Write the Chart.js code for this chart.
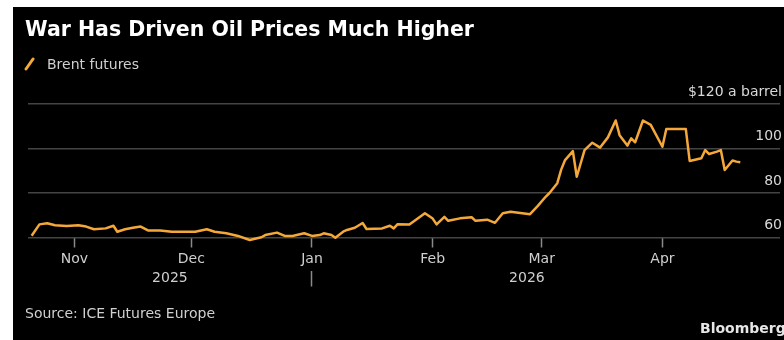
<!DOCTYPE html>
<html>
<head>
<meta charset="utf-8">
<script src="https://cdn.jsdelivr.net/npm/chart.js@4"></script>
<style>
  html, body { margin: 0; padding: 0; background: #fff; }
  body { width: 784px; height: 340px; position: relative; overflow: hidden; font-family: "DejaVu Sans", sans-serif; }
  #panel { position: absolute; left: 13px; top: 7px; width: 771px; height: 333px; background: #000; }
  #chart { position: absolute; left: 0; top: 0; }
  .txt { position: absolute; white-space: nowrap; line-height: 1; }
  #title { left: 25px; top: 19px; font-size: 20.5px; font-weight: bold; color: #fff; }
  #legend { left: 47px; top: 57px; font-size: 14px; color: #cfcfcf; }
  #swatch { position: absolute; left: 24px; top: 57px; }
  #source { left: 25px; top: 306px; font-size: 14px; color: #d0d0d0; }
  #brand { left: 700px; top: 321px; font-size: 14px; font-weight: bold; color: #e6e6e6; }
</style>
</head>
<body>
<div id="panel"></div>
<canvas id="chart" width="784" height="340"></canvas>
<div class="txt" id="title">War Has Driven Oil Prices Much Higher</div>
<svg id="swatch" width="12" height="14"><line x1="2" y1="12" x2="9" y2="2" stroke="#f5a83a" stroke-width="3" stroke-linecap="round"/></svg>
<div class="txt" id="legend">Brent futures</div>
<div class="txt" id="source">Source: ICE Futures Europe</div>
<div class="txt" id="brand">Bloomberg</div>
<script>
// days after 1 Nov 2025, Brent front-month close
const days = [-11, -9, -7, -5, -2, 1, 3, 5, 8, 10, 11, 13, 15, 17, 19, 22, 25, 29, 31, 34,
  36, 39, 42, 45, 48, 49, 52, 54, 56, 59, 61, 63, 64, 66, 67, 69, 70, 72, 74, 75,
  79, 81, 82, 83, 86, 87, 90, 92, 93, 95, 96, 99, 102, 103, 106, 108, 110, 112, 115, 117,
  119, 121, 122, 124, 125, 126, 128, 129, 131, 133, 135, 137, 139, 140, 142, 143, 144, 146, 148, 151,
  152, 157, 158, 161, 162, 163, 165, 166, 167, 169, 170, 171];
const prices = [60.8, 65.9, 66.4, 65.5, 65.2, 65.5, 64.9, 63.7, 64.1, 65.3, 62.6, 63.7, 64.4, 64.9, 63.1, 63.1, 62.6, 62.6, 62.6, 63.7,
  62.6, 61.9, 60.7, 58.9, 60.1, 61.1, 62.2, 60.7, 60.7, 61.9, 60.7, 61.1, 61.9, 61.1, 59.9, 62.6, 63.4, 64.4, 66.5, 63.8,
  64.1, 65.3, 64.1, 66.0, 65.8, 67.1, 70.9, 68.5, 65.9, 69.3, 67.5, 68.6, 69.1, 67.5, 68.0, 66.6, 70.9, 71.6, 70.9, 70.5,
  74.2, 78.3, 80.0, 84.4, 90.5, 94.8, 98.8, 87.3, 99.3, 102.6, 100.4, 105.0, 112.6, 106.0, 101.3, 104.6, 102.8, 112.6, 110.6, 100.8,
  108.8, 108.8, 94.4, 95.6, 99.3, 97.5, 98.6, 99.3, 90.3, 94.6, 94.1, 93.8];

const monthTicks = [0, 30, 61, 92, 120, 151];
const monthLabels = ["Nov", "Dec", "Jan", "Feb", "Mar", "Apr"];
const yearTicks = [24.5, 61, 116.2];
const yearLabels = ["2025", "", "2026"];
const priceTicks = [60, 80, 100, 120];
const priceLabels = ["60", "80", "100", "$120 a barrel"];

const xMin = -11.94;
const xMax = 181.2;

new Chart(document.getElementById("chart"), {
  type: "line",
  data: {
    datasets: [{
      label: "Brent futures",
      data: days.map((d, i) => ({ x: d, y: prices[i] })),
      borderColor: "#f5a83a",
      borderWidth: 2.5,
      pointRadius: 0,
      tension: 0,
      borderJoinStyle: "round",
      clip: false,
    }],
  },
  options: {
    responsive: false,
    animation: false,
    devicePixelRatio: 1,
    layout: { padding: { left: 28, right: 4, top: 104, bottom: 39.5 } },
    plugins: { legend: { display: false }, tooltip: { enabled: false } },
    scales: {
      x: {
        type: "linear",
        position: "bottom",
        weight: 1,
        min: xMin,
        max: xMax,
        afterBuildTicks: (s) => { s.ticks = monthTicks.map((v) => ({ value: v })); },
        afterFit: (s) => { s.height = 33; },
        grid: { drawOnChartArea: false, tickLength: 10, tickColor: "#8a8a8a", tickWidth: 1.5 },
        border: { display: false },
        ticks: {
          autoSkip: false,
          maxRotation: 0,
          padding: 3,
          color: "#cfcfcf",
          font: { family: "DejaVu Sans", size: 14 },
          callback: (v, i) => monthLabels[i],
        },
      },
      year: {
        type: "linear",
        position: "bottom",
        weight: 2,
        min: xMin,
        max: xMax,
        afterBuildTicks: (s) => { s.ticks = yearTicks.map((v) => ({ value: v })); },
        afterFit: (s) => { s.height = 30; },
        grid: {
          drawOnChartArea: false,
          tickLength: 16,
          tickWidth: 1.5,
          tickColor: (ctx) => (ctx.index === 1 ? "#8a8a8a" : "rgba(0,0,0,0)"),
        },
        border: { display: false },
        ticks: {
          autoSkip: false,
          maxRotation: 0,
          padding: -17,
          color: "#cfcfcf",
          font: { family: "DejaVu Sans", size: 14 },
          callback: (v, i) => yearLabels[i],
        },
      },
      y: {
        position: "right",
        min: 60,
        max: 120,
        afterBuildTicks: (s) => { s.ticks = priceTicks.map((v) => ({ value: v })); },
        afterFit: (s) => { s.width = 0; },
        grid: { color: "#444", lineWidth: 1.5, drawTicks: false },
        border: { display: false },
        ticks: {
          autoSkip: false,
          mirror: true,
          padding: 2,
          color: "#d8d8d8",
          font: { family: "DejaVu Sans", size: 14, lineHeight: "24px" },
          callback: (v, i) => [priceLabels[i], ""],
        },
      },
    },
  },
});
</script>
</body>
</html>
